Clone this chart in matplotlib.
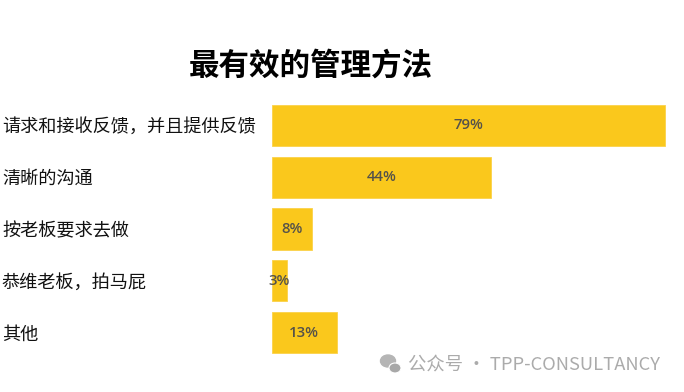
import numpy as np
import matplotlib
matplotlib.use('Agg')
import matplotlib.pyplot as plt
from matplotlib.patches import Ellipse

plt.rcParams['font.family'] = ['Noto Sans CJK SC', 'DejaVu Sans']

# data
categories = ['请求和接收反馈，并且提供反馈', '清晰的沟通', '按老板要求去做', '恭维老板，拍马屁', '其他']
values = [79, 44, 8, 3, 13]
value_labels = ['79%', '44%', '8%', '3%', '13%']

title = '最有效的管理方法'
watermark = '公众号 · TPP-CONSULTANCY'

W, H = 684, 392
fig = plt.figure(figsize=(W / 100, H / 100), dpi=100)
fig.patch.set_facecolor('white')

# axes placed in pixel terms
ax = fig.add_axes([272 / W, 28 / H, 400 / W, 270 / H])
pos = np.arange(len(categories))
ax.barh(pos, values, height=0.79, color='#FAC81C', edgecolor='#FBD24A', linewidth=0.6)
ax.set_xlim(0, 79 * 400 / 393)
ax.set_ylim(len(categories) - 0.4, -0.6)

for p, v, lab in zip(pos, values, value_labels):
    ax.text(v / 2, p, lab, ha='center', va='center', fontsize=10.8, fontweight='semibold',
            color='#55524a', family=['Open Sans', 'DejaVu Sans'])

ax.set_yticks(pos, categories)
for t in ax.get_yticklabels():
    t.set_ha('left')
ax.tick_params(axis='y', length=0, pad=270 * 0.72, labelsize=13.1, labelcolor='#111111')
ax.set_xticks([])
for s in ax.spines.values():
    s.set_visible(False)

fig.text(311 / W, 1 - 66 / H, title, ha='center', va='center',
         fontsize=22, fontweight='bold', color='black')

# watermark with a small chat-bubble icon
fig.text(408 / W, 1 - 365 / H, watermark, ha='left', va='center',
         fontsize=13.2, color='#ababab')
fig.add_artist(Ellipse((388 / W, 1 - 361 / H), 15 / W, 12 / H, transform=fig.transFigure,
                       color='#b5b5b5'))
fig.add_artist(Ellipse((395 / W, 1 - 368 / H), 12 / W, 10 / H, transform=fig.transFigure,
                       color='#a8a8a8', ec='white', lw=0.8))

fig.savefig('out.png', dpi=100)
